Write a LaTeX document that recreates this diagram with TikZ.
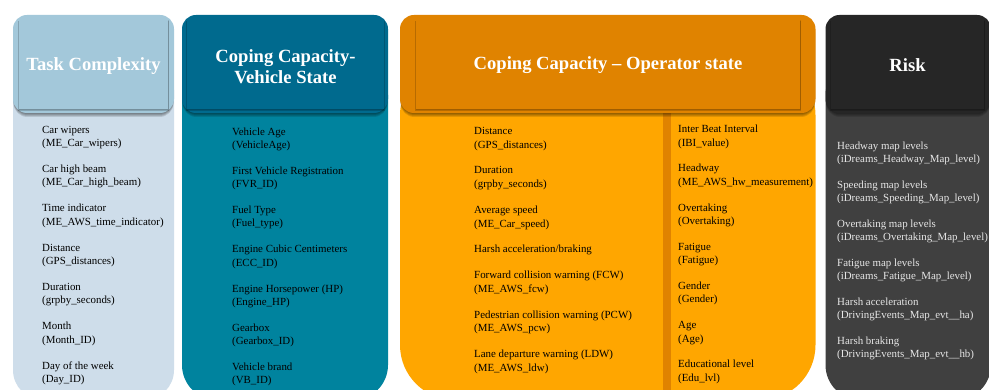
\documentclass[tikz,border=0pt]{standalone}
\usepackage{fontspec}
\setmainfont{Liberation Serif}[BoldFont={Liberation Serif Bold}]
\usetikzlibrary{calc}

% panel colours: header / body
\definecolor{tcHead}{HTML}{A3C8DA}
\definecolor{tcBody}{HTML}{CEDDEA}
\definecolor{vsHead}{HTML}{006A8E}
\definecolor{vsBody}{HTML}{00839E}
\definecolor{osHead}{HTML}{E08300}
\definecolor{osBody}{HTML}{FFA600}
\definecolor{rkHead}{HTML}{262626}
\definecolor{rkBody}{HTML}{404040}
\definecolor{rkText}{HTML}{E6E6E6}

\newcommand{\itempair}[2]{\strut #1\\\strut #2}

\begin{document}
\begin{tikzpicture}[x=1pt,y=-1pt,
  entry/.style={anchor=north west, align=left, inner sep=0pt,
    font=\fontsize{10.9}{13.3}\selectfont},
  headtitle/.style={inner sep=0pt, align=center, text=white,
    font=\fontsize{18.6}{21}\selectfont\bfseries},
  shade/.style={black, opacity=0.12},
]
\clip (0,0) rectangle (989,390);
\fill[white] (0,0) rectangle (989,390);

% ---------------- panel bodies ----------------
\fill[tcBody, rounded corners=30pt] (13,60) rectangle (174,400);
\fill[vsBody, rounded corners=35pt] (182,60) rectangle (388,400);
\fill[osBody, rounded corners=55pt] (400,60) rectangle (815.5,400);
\fill[rkBody, rounded corners=35pt] (825.5,60) rectangle (991,400);

% divider between the two operator-state columns
\fill[osHead] (663,110) rectangle (671,400);

% ---------------- header frames with soft shadow ----------------
\foreach \xa/\xb/\col in {13/174/tcHead, 182/388/vsHead, 400/815.5/osHead, 825.5/991/rkHead}{
  \foreach \d in {1,2,3,4}
    \fill[shade, rounded corners=14pt] (\xa+0.5,15+\d) rectangle (\xb-0.5,113+\d);
  \fill[\col, rounded corners=14pt] (\xa,15) rectangle (\xb,113);
}

% inner header boxes: shadow strip, then the box itself
\foreach \xa/\xb/\col in {19/168/tcHead, 187/383.5/vsHead, 416/800/osHead, 831/984/rkHead}{
  \fill[black, opacity=0.18] (\xa-1.5,21) rectangle (\xb+1,111.5);
  \fill[black, opacity=0.12] (\xa-0.5,20.5) rectangle (\xb+0.5,110.5);
  \fill[\col] (\xa,19.5) rectangle (\xb,109);
}

% header titles
\node[headtitle] (tc) at (93.5,66) {Task Complexity};
\node[headtitle] (vs) at (285.5,66.5) {Coping Capacity-\\Vehicle State};
\node[headtitle] (os) at (608,65.5) {Coping Capacity -- Operator state};
\node[headtitle] (rk) at (907.5,65.5) {Risk};

% ---------------- Task Complexity ----------------
\node[entry] (tc1) at (42,123.5) {\itempair{Car wipers}{(ME\_Car\_wipers)}};
\node[entry] (tc2) at (42,162.9) {\itempair{Car high beam}{(ME\_Car\_high\_beam)}};
\node[entry] (tc3) at (42,202.2) {\itempair{Time indicator}{(ME\_AWS\_time\_indicator)}};
\node[entry] (tc4) at (42,241.6) {\itempair{Distance}{(GPS\_distances)}};
\node[entry] (tc5) at (42,280.9) {\itempair{Duration}{(grpby\_seconds)}};
\node[entry] (tc6) at (42,320.3) {\itempair{Month}{(Month\_ID)}};
\node[entry] (tc7) at (42,359.6) {\itempair{Day of the week}{(Day\_ID)}};

% ---------------- Vehicle state ----------------
\node[entry] (vs1) at (232,125.5) {\itempair{Vehicle Age}{(VehicleAge)}};
\node[entry] (vs2) at (232,164.8) {\itempair{First Vehicle Registration}{(FVR\_ID)}};
\node[entry] (vs3) at (232,204.0) {\itempair{Fuel Type}{(Fuel\_type)}};
\node[entry] (vs4) at (232,243.3) {\itempair{Engine Cubic Centimeters}{(ECC\_ID)}};
\node[entry] (vs5) at (232,282.5) {\itempair{Engine Horsepower (HP)}{(Engine\_HP)}};
\node[entry] (vs6) at (232,321.8) {\itempair{Gearbox}{(Gearbox\_ID)}};
\node[entry] (vs7) at (232,361.0) {\itempair{Vehicle brand}{(VB\_ID)}};

% ---------------- Operator state, left column ----------------
\node[entry] (ol1) at (474,125.2) {\itempair{Distance}{(GPS\_distances)}};
\node[entry] (ol2) at (474,164.4) {\itempair{Duration}{(grpby\_seconds)}};
\node[entry] (ol3) at (474,204.2) {\itempair{Average speed}{(ME\_Car\_speed)}};
\node[entry] (ol4) at (474,243.2) {\strut Harsh acceleration/braking};
\node[entry] (ol5) at (474,269.4) {\itempair{Forward collision warning (FCW)}{(ME\_AWS\_fcw)}};
\node[entry] (ol6) at (474,308.6) {\itempair{Pedestrian collision warning (PCW)}{(ME\_AWS\_pcw)}};
\node[entry] (ol7) at (474,348.2) {\itempair{Lane departure warning (LDW)}{(ME\_AWS\_ldw)}};

% ---------------- Operator state, right column ----------------
\node[entry] (or1) at (678,123.2) {\itempair{Inter Beat Interval}{(IBI\_value)}};
\node[entry] (or2) at (678,162.4) {\itempair{Headway}{(ME\_AWS\_hw\_measurement)}};
\node[entry] (or3) at (678,201.6) {\itempair{Overtaking}{(Overtaking)}};
\node[entry] (or4) at (678,240.8) {\itempair{Fatigue}{(Fatigue)}};
\node[entry] (or5) at (678,280.0) {\itempair{Gender}{(Gender)}};
\node[entry] (or6) at (678,319.2) {\itempair{Age}{(Age)}};
\node[entry] (or7) at (678,358.4) {\itempair{Educational level}{(Edu\_lvl)}};

% ---------------- Risk ----------------
\begin{scope}[every node/.append style={text=rkText}]
\node[entry] (rk1) at (837,139.5) {\itempair{Headway map levels}{(iDreams\_Headway\_Map\_level)}};
\node[entry] (rk2) at (837,178.6) {\itempair{Speeding map levels}{(iDreams\_Speeding\_Map\_level)}};
\node[entry] (rk3) at (837,217.7) {\itempair{Overtaking map levels}{(iDreams\_Overtaking\_Map\_level)}};
\node[entry] (rk4) at (837,256.8) {\itempair{Fatigue map levels}{(iDreams\_Fatigue\_Map\_level)}};
\node[entry] (rk5) at (837,295.9) {\itempair{Harsh acceleration}{(DrivingEvents\_Map\_evt\_\_ha)}};
\node[entry] (rk6) at (837,335.0) {\itempair{Harsh braking}{(DrivingEvents\_Map\_evt\_\_hb)}};
\end{scope}
\end{tikzpicture}
\end{document}
